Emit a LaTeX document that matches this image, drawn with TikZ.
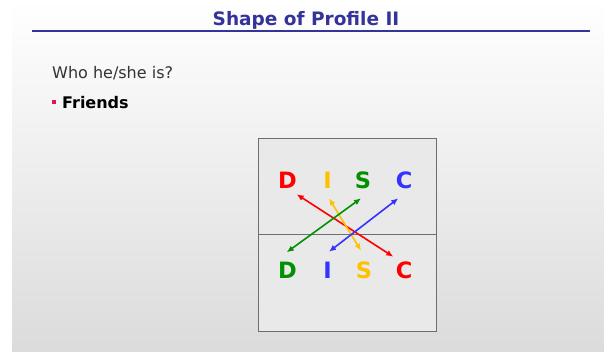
\documentclass[tikz,border=0pt]{standalone}
\usepackage{fontspec}
\setmainfont{DejaVu Sans}
\usetikzlibrary{calc,arrows.meta}
\definecolor{titleblue}{HTML}{333399}
\definecolor{bulletpink}{HTML}{DD1166}
\definecolor{discred}{HTML}{FF0000}
\definecolor{discyellow}{HTML}{FFC000}
\definecolor{discgreen}{HTML}{009000}
\definecolor{discblue}{HTML}{3333FF}
\definecolor{boxgrey}{HTML}{E9E9E9}
\definecolor{boxline}{HTML}{6E6E6E}
\tikzset{
  letter/.style={font=\fontsize{22.5}{22.5}\selectfont\bfseries,anchor=base,inner sep=0pt},
  link/.style={line width=1.6pt,{Latex[length=7pt,width=6pt]}-{Latex[length=7pt,width=6pt]}}
}
\begin{document}
\begin{tikzpicture}
    [x=1pt,y=-1pt]
    %slide background
    \useasboundingbox (0,0) rectangle (604,351);
    \fill[white] (0,0) rectangle (604,351);
    \shade[top color=white,bottom color=black!14] (12,0) rectangle (604,351);
    %title
    \node[font=\fontsize{18.5}{18.5}\selectfont\bfseries,text=titleblue,anchor=base,inner sep=0pt] (title) at (306,25) {Shape of Profile II};
    \draw[titleblue,line width=1.2pt] (32,31)--(590,31);
    %text
    \node[font=\fontsize{16}{16}\selectfont,text=black!80,anchor=base west,inner sep=0pt] (who) at (52,78.3) {Who he/she is?};
    \fill[bulletpink] (52,99.5) rectangle (56,104);
    \node[font=\fontsize{16}{16}\selectfont\bfseries,anchor=base west,inner sep=0pt] (friends) at (62,108.3) {Friends};
    %box
    \draw[boxline,fill=boxgrey] (258,138) rectangle (436,331);
    \draw[boxline] (258,234)--(436,234);
    %top row
    \node[letter,text=discred] (dT) at (287.5,188.5) {D};
    \node[letter,text=discyellow] (iT) at (327.5,188.5) {I};
    \node[letter,text=discgreen] (sT) at (363,188.5) {S};
    \node[letter,text=discblue] (cT) at (404,188.5) {C};
    %bottom row
    \node[letter,text=discgreen] (dB) at (287.5,278.5) {D};
    \node[letter,text=discblue] (iB) at (327.5,278.5) {I};
    \node[letter,text=discyellow] (sB) at (364,278.5) {S};
    \node[letter,text=discred] (cB) at (404,278.5) {C};
    %arrows
    \draw[link,discred] ($(dT.base)+(9.2,5.8)$)--($(cB.base)+(-10.7,-21.8)$);
    \draw[link,discyellow] ($(iT.base)+(1.5,9.8)$)--($(sB.base)+(-3,-27.8)$);
    \draw[link,discgreen] ($(sT.base)+(-2,9.8)$)--($(dB.base)+(-0.8,-26.2)$);
    \draw[link,discblue] ($(cT.base)+(-5.7,9.8)$)--($(iB.base)+(1.5,-26.8)$);
\end{tikzpicture}
\end{document}
